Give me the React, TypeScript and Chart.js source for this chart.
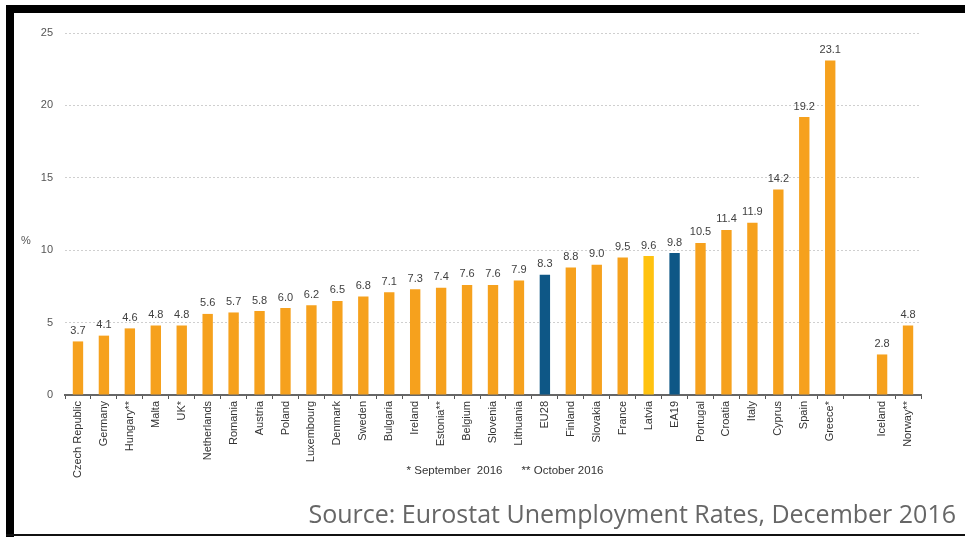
import React, { useEffect, useRef } from "react";
import { Chart, registerables } from "chart.js";

Chart.register(...registerables);

const categories = [
  "Czech Republic", "Germany", "Hungary**", "Malta", "UK*", "Netherlands", "Romania", "Austria",
  "Poland", "Luxembourg", "Denmark", "Sweden", "Bulgaria", "Ireland", "Estonia**", "Belgium",
  "Slovenia", "Lithuania", "EU28", "Finland", "Slovakia", "France", "Latvia", "EA19",
  "Portugal", "Croatia", "Italy", "Cyprus", "Spain", "Greece*", "", "Iceland", "Norway**",
];

const rates: (number | null)[] = [
  3.7, 4.1, 4.6, 4.8, 4.8, 5.6, 5.7, 5.8,
  6.0, 6.2, 6.5, 6.8, 7.1, 7.3, 7.4, 7.6,
  7.6, 7.9, 8.3, 8.8, 9.0, 9.5, 9.6, 9.8,
  10.5, 11.4, 11.9, 14.2, 19.2, 23.1, null, 2.8, 4.8,
];

const aggregateCategories = ["EU28", "EA19"];
const highlightCategories = ["Latvia"];

const yTicks = [0, 5, 10, 15, 20, 25];

const footnoteText = "* September  2016      ** October 2016";
const sourceText = "Source: Eurostat Unemployment Rates, December 2016";

const ORANGE = "#F6A11D";
const YELLOW = "#FFC20F";
const BLUE = "#0E5786";

const valueLabelPlugin = {
  id: "valueLabels",
  afterDatasetsDraw(chart: any) {
    const ctx = chart.ctx;
    const meta = chart.getDatasetMeta(0);
    ctx.save();
    ctx.font = "11px 'Liberation Sans', Arial, sans-serif";
    ctx.fillStyle = "#404040";
    ctx.textAlign = "center";
    ctx.textBaseline = "bottom";
    meta.data.forEach((el: any, i: number) => {
      const v = rates[i];
      if (v === null || v === undefined) return;
      ctx.fillText(v.toFixed(1), el.x, el.y - 5);
    });
    // "%" unit label
    const ys = chart.scales.y;
    ctx.fillStyle = "#555";
    ctx.textBaseline = "middle";
    ctx.fillText("%", 26, ys.getPixelForValue(10) - 9);
    ctx.restore();
  },
};

export default function App() {
  const canvasRef = useRef<HTMLCanvasElement | null>(null);

  useEffect(() => {
    if (!canvasRef.current) return;
    const colors = categories.map((c) =>
      aggregateCategories.includes(c) ? BLUE : highlightCategories.includes(c) ? YELLOW : ORANGE
    );
    const chart = new Chart(canvasRef.current, {
      type: "bar",
      data: {
        labels: categories,
        datasets: [
          {
            data: rates,
            backgroundColor: colors,
            borderWidth: 0,
            barPercentage: 0.4,
            categoryPercentage: 1.0,
          },
        ],
      },
      options: {
        animation: false,
        responsive: false,
        maintainAspectRatio: false,
        layout: { padding: { left: 0, right: 44, top: 33, bottom: 0 } },
        plugins: { legend: { display: false }, tooltip: { enabled: false } },
        scales: {
          x: {
            offset: true,
            grid: {
              display: true,
              drawOnChartArea: false,
              drawTicks: true,
              tickLength: 4,
              tickColor: "#555",
              tickWidth: 1,
              offset: true,
            },
            border: { display: true, color: "#666", width: 2 },
            ticks: {
              autoSkip: false,
              minRotation: 90,
              maxRotation: 90,
              padding: 2,
              color: "#333",
              font: { family: "'Liberation Sans', Arial, sans-serif", size: 11 },
            },
            afterFit: (scale: any) => {
              scale.height = 142;
            },
          },
          y: {
            min: 0,
            max: 25,
            afterBuildTicks: (scale: any) => {
              scale.ticks = yTicks.map((v) => ({ value: v }));
            },
            grid: { color: "#cfcfcf", lineWidth: 1, drawTicks: false },
            border: { display: false, dash: [2, 2] },
            ticks: {
              padding: 12,
              color: "#555",
              font: { family: "'Liberation Sans', Arial, sans-serif", size: 11 },
            },
            afterFit: (scale: any) => {
              scale.width = 65;
            },
          },
        },
      },
      plugins: [valueLabelPlugin],
    });
    return () => chart.destroy();
  }, []);

  return (
    <div
      style={{
        position: "absolute",
        left: 0,
        top: 0,
        width: 965,
        height: 537,
        background: "#fff",
        overflow: "hidden",
      }}
    >
      <canvas
        ref={canvasRef}
        width={965}
        height={537}
        style={{ position: "absolute", left: 0, top: 0, width: 965, height: 537 }}
      />
      <div
        style={{
          position: "absolute",
          left: 0,
          width: 1010,
          top: 464,
          textAlign: "center",
          font: "11.5px 'Liberation Sans', Arial, sans-serif",
          color: "#333",
          whiteSpace: "pre",
        }}
      >
        {footnoteText}
      </div>
      <div
        style={{
          position: "absolute",
          right: 9,
          top: 496,
          font: "25px 'Open Sans', sans-serif",
          color: "#666",
          whiteSpace: "pre",
        }}
      >
        {sourceText}
      </div>
      <div style={{ position: "absolute", left: 6, top: 5, width: 959, height: 8, background: "#000" }} />
      <div style={{ position: "absolute", left: 6, top: 5, width: 8, height: 532, background: "#000" }} />
      <div style={{ position: "absolute", left: 6, top: 534, width: 959, height: 2, background: "#111" }} />
    </div>
  );
}
